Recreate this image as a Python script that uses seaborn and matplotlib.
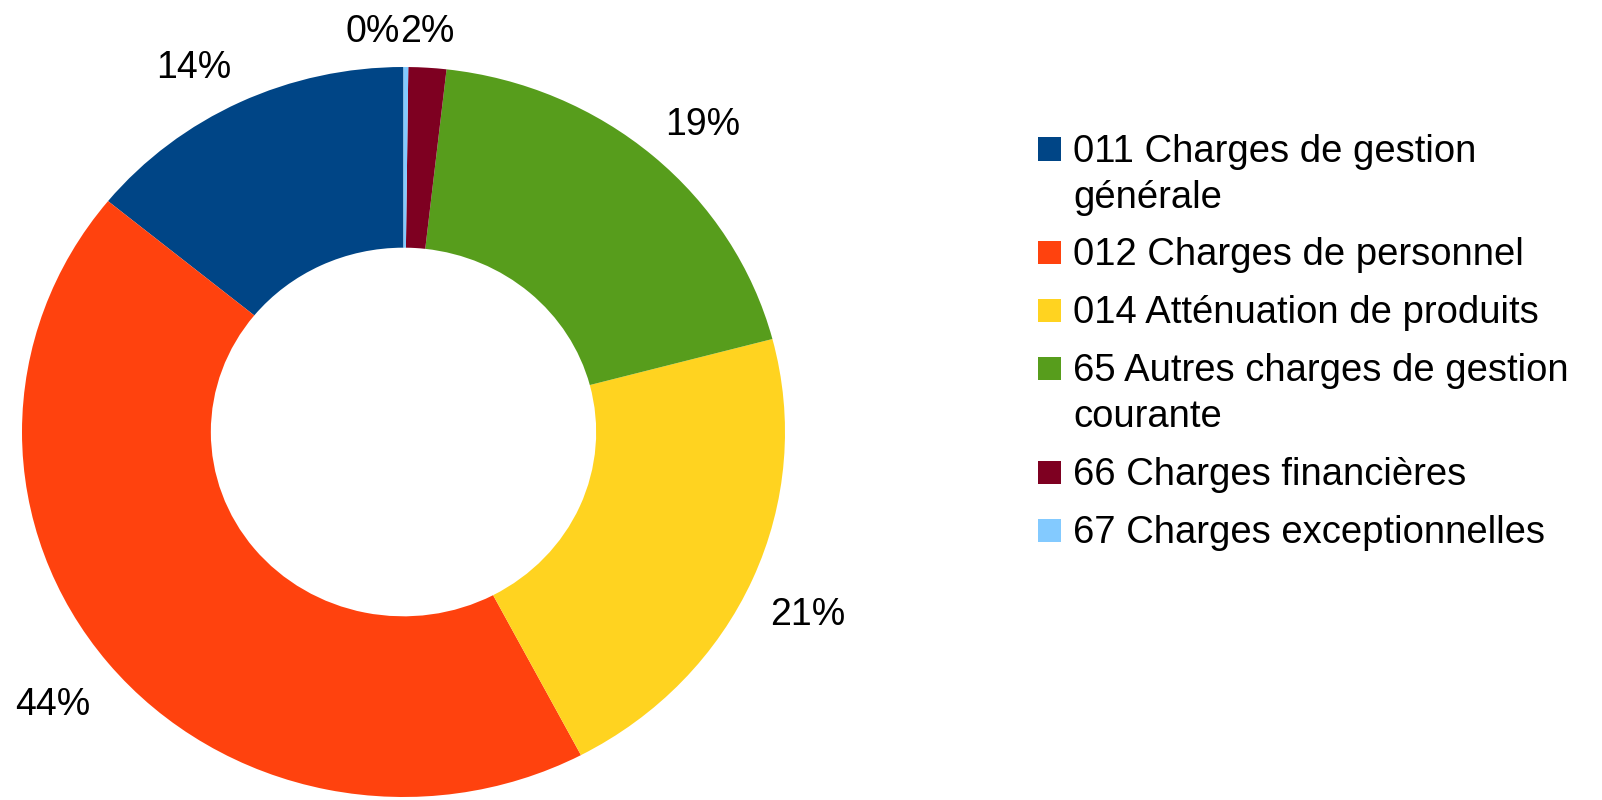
import matplotlib
matplotlib.use("Agg")
import matplotlib.pyplot as plt
import matplotlib.patches as mpatches
import seaborn as sns

# Données (en % des charges)
categories = [
    "011 Charges de gestion\ngénérale",
    "012 Charges de personnel",
    "014 Atténuation de produits",
    "65 Autres charges de gestion\ncourante",
    "66 Charges financières",
    "67 Charges exceptionnelles",
]
valeurs = [14.1, 43.6, 21.4, 19.1, 1.6, 0.2]
couleurs = ["#004586", "#FF420E", "#FFD320", "#579D1C", "#7E0021", "#83CAFF"]

sns.set_theme(style="white")
plt.rcParams['font.family'] = ['Liberation Sans', 'DejaVu Sans']
plt.rcParams['text.color'] = 'black'
palette = sns.color_palette(couleurs)

W, H = 1602, 800
fig = plt.figure(figsize=(W / 100, H / 100), dpi=100)
# axe placé en pixels : le donut est légèrement plus large que haut
ax = fig.add_axes([22 / W, (H - 797) / H, 763 / W, 730 / H])

wedges, textes, pcts = ax.pie(
    valeurs, colors=palette, startangle=90, counterclock=True,
    autopct='%.0f%%', pctdistance=1.17,
    wedgeprops=dict(width=0.495, linewidth=0),
    textprops=dict(fontsize=27, color='black'),
)
ax.set_aspect('auto')
ax.set_xlim(-1, 1)
ax.set_ylim(-1, 1)
ax.axis('off')

# placement des étiquettes comme dans l'original (ligne de base)
pos_etiquettes = [(-0.549, 0.971, 'center'), (-0.919, -0.775, 'center'),
                  (1.059, -0.529, 'center'), (0.785, 0.814, 'center'),
                  (-0.009, 1.068, 'left'), (-0.009, 1.068, 'right')]
for t, (px, py, ha) in zip(pcts, pos_etiquettes):
    t.set_position((px, py))
    t.set_ha(ha)
    t.set_va('baseline')

# Légende (carré aligné sur la première ligne)
fs = 27.5
y = 162
for lab, c in zip(categories, palette):
    fig.patches.append(mpatches.Rectangle(
        (1038 / W, 1 - (y - 1.5) / H), 23 / W, 23 / H,
        transform=fig.transFigure, facecolor=c, edgecolor='none'))
    for ligne in lab.split("\n"):
        fig.text(1073 / W, 1 - y / H, ligne, fontsize=fs, va='baseline',
                 ha='left', color='black')
        y += 45.5
    y += 12.5

fig.savefig("out.png", dpi=100)
